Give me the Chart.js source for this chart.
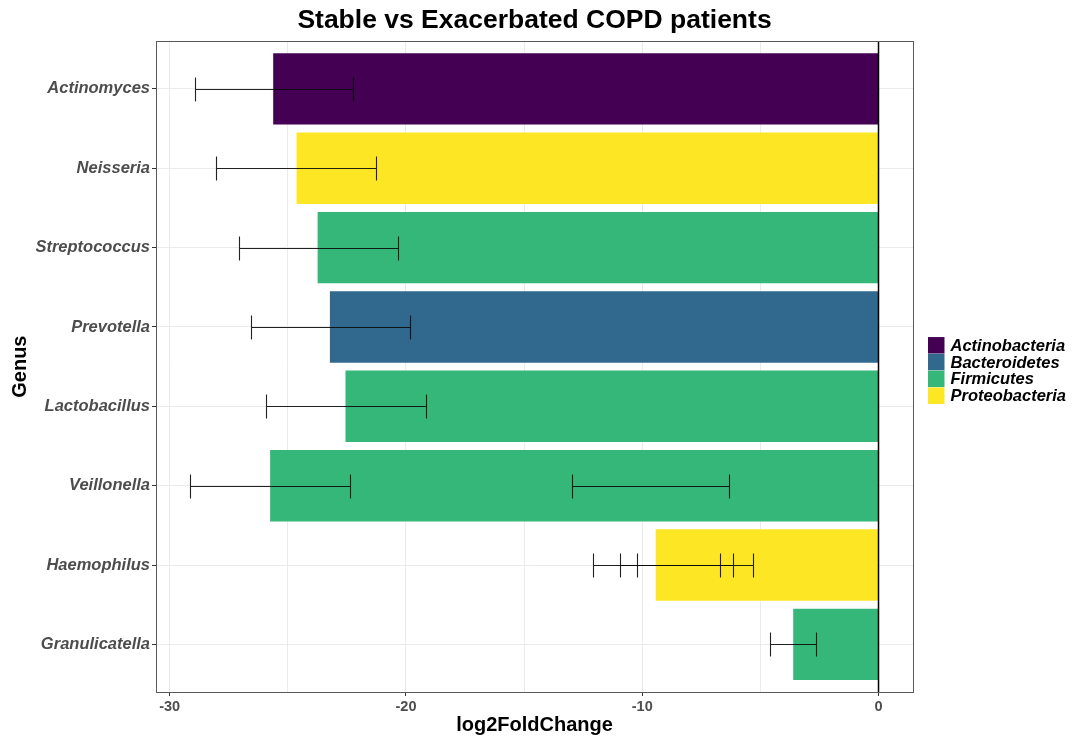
<!DOCTYPE html>
<html>
<head>
<meta charset="utf-8">
<script src="https://cdn.jsdelivr.net/npm/chart.js@4.4.1/dist/chart.umd.min.js"></script>
<style>
  html, body { margin: 0; padding: 0; background: #fff; }
  #wrap { width: 1081px; height: 737px; }
</style>
</head>
<body>
<div id="wrap"><canvas id="copdChart" width="1081" height="737"></canvas></div>
<script>
// --- data ---
const genera = ['Actinomyces', 'Neisseria', 'Streptococcus', 'Prevotella', 'Lactobacillus', 'Veillonella', 'Haemophilus', 'Granulicatella'];
const phylum = ['Actinobacteria', 'Proteobacteria', 'Firmicutes', 'Bacteroidetes', 'Firmicutes', 'Firmicutes', 'Proteobacteria', 'Firmicutes'];
const log2fc = [-25.62, -24.63, -23.74, -23.22, -22.56, -25.75, -9.43, -3.61];

// error bars (some genera have several)
const errGenus = ['Actinomyces', 'Neisseria', 'Streptococcus', 'Prevotella', 'Lactobacillus', 'Veillonella', 'Veillonella', 'Haemophilus', 'Haemophilus', 'Haemophilus', 'Granulicatella'];
const errLow  = [-28.95, -28.02, -27.08, -26.57, -25.93, -29.12, -12.97, -12.08, -10.93, -10.22, -4.61];
const errHigh = [-22.23, -21.27, -20.33, -19.82, -19.14, -22.36, -6.31, -6.72, -6.14, -5.31, -2.64];

const phylaOrder = ['Actinobacteria', 'Bacteroidetes', 'Firmicutes', 'Proteobacteria'];
const phylaColors = ['#440154', '#31688E', '#35B779', '#FDE725'];

const FONT = "'Liberation Sans', Arial, sans-serif";
const colorOf = (p) => phylaColors[phylaOrder.indexOf(p)];

// error bars + zero line + panel border
const overlayPlugin = {
    id: 'overlay',
    afterDatasetsDraw(chart) {
        const { ctx, chartArea: a, scales: { x, y } } = chart;
        ctx.save();
        // vertical line at 0
        const x0 = x.getPixelForValue(0);
        ctx.strokeStyle = '#000';
        ctx.lineWidth = 1.5;
        ctx.beginPath(); ctx.moveTo(x0, a.top); ctx.lineTo(x0, a.bottom); ctx.stroke();

        // error bars
        ctx.strokeStyle = 'rgba(10,10,10,0.9)';
        ctx.lineWidth = 1.1;
        errGenus.forEach((g, i) => {
            const idx = genera.indexOf(g);
            const yc = Math.round(y.getPixelForValue(idx)) + 0.5;
            const half = Math.abs(y.getPixelForValue(idx + 0.15) - y.getPixelForValue(idx));
            const xl = Math.round(x.getPixelForValue(errLow[i])) + 0.5;
            const xr = Math.round(x.getPixelForValue(errHigh[i])) + 0.5;
            ctx.beginPath();
            ctx.moveTo(xl, yc); ctx.lineTo(xr, yc);
            ctx.moveTo(xl, yc - half); ctx.lineTo(xl, yc + half);
            ctx.moveTo(xr, yc - half); ctx.lineTo(xr, yc + half);
            ctx.stroke();
        });

        // panel border
        ctx.strokeStyle = '#5a5a5a';
        ctx.lineWidth = 1;
        ctx.strokeRect(Math.round(a.left) + 0.5, Math.round(a.top) + 0.5, Math.round(a.right - a.left), Math.round(a.bottom - a.top));
        ctx.restore();
    }
};

// legend drawn to the right of the panel (ggplot style, no title)
const legendPlugin = {
    id: 'phylaLegend',
    afterDraw(chart) {
        const { ctx, chartArea: a } = chart;
        const box = 16.5, step = 16.8;
        const left = a.right + 15;
        const top = (a.top + a.bottom) / 2 - (step * phylaOrder.length) / 2 + 4;
        ctx.save();
        ctx.font = `italic bold 16.5px ${FONT}`;
        ctx.textBaseline = 'middle';
        ctx.textAlign = 'left';
        phylaOrder.forEach((p, i) => {
            const yy = top + i * step;
            ctx.fillStyle = phylaColors[i];
            ctx.fillRect(left, yy, box, box);
            ctx.fillStyle = '#000';
            ctx.fillText(p, left + box + 6, yy + box / 2 + 1);
        });
        ctx.restore();
    }
};

new Chart(document.getElementById('copdChart').getContext('2d'), {
    type: 'bar',
    data: {
        datasets: [{
            label: 'log2FoldChange',
            data: genera.map((g, i) => ({ x: log2fc[i], y: i })),
            backgroundColor: phylum.map(colorOf),
            borderWidth: 0,
            barPercentage: 0.9,
            categoryPercentage: 1
        }]
    },
    options: {
        indexAxis: 'y',
        responsive: false,
        animation: false,
        devicePixelRatio: 1,
        layout: { padding: { left: 0, right: 168, top: 0, bottom: 0 } },
        plugins: {
            legend: { display: false },
            tooltip: { enabled: false },
            title: {
                display: true,
                text: 'Stable vs Exacerbated COPD patients',
                color: '#000',
                fullSize: false,
                font: { family: FONT, size: 26.5, weight: 'bold' },
                padding: { top: 5, bottom: 4.5 }
            }
        },
        scales: {
            x: {
                type: 'linear',
                min: -30.58, max: 1.46,
                afterBuildTicks: (axis) => { axis.ticks = axis.ticks.filter(t => t.value % 5 === 0); },
                afterFit: (axis) => { axis.height = 45; },
                ticks: {
                    stepSize: 5,
                    includeBounds: false,
                    autoSkip: false,
                    maxRotation: 0,
                    color: '#4d4d4d',
                    padding: 2,
                    font: { family: FONT, size: 14.5, weight: 'bold' },
                    callback: (v) => (v % 10 === 0 ? String(v) : '')
                },
                grid: {
                    color: '#ebebeb',
                    tickLength: 4,
                    tickColor: (c) => (c.tick && c.tick.value % 10 === 0 ? '#333' : 'rgba(0,0,0,0)')
                },
                border: { display: false },
                title: {
                    display: true,
                    text: 'log2FoldChange',
                    color: '#000',
                    font: { family: FONT, size: 20, weight: 'bold' },
                    padding: { top: 0, bottom: 0 }
                }
            },
            y: {
                type: 'linear',
                reverse: true,
                offset: false,
                min: -0.6, max: 7.6,
                afterBuildTicks: (axis) => { axis.ticks = axis.ticks.filter(t => Number.isInteger(t.value)); },
                afterFit: (axis) => { axis.width = 156; },
                ticks: {
                    stepSize: 1,
                    includeBounds: false,
                    autoSkip: false,
                    color: '#4d4d4d',
                    padding: 2,
                    font: { family: FONT, size: 16.5, weight: 'bold', style: 'italic' },
                    callback: (v) => genera[v] || ''
                },
                grid: { offset: false, color: '#ebebeb', tickLength: 4, tickColor: '#333' },
                border: { display: false },
                title: {
                    display: true,
                    text: 'Genus',
                    color: '#000',
                    font: { family: FONT, size: 20, weight: 'bold' },
                    padding: { top: 8, bottom: 0 }
                }
            }
        }
    },
    plugins: [overlayPlugin, legendPlugin]
});
</script>
</body>
</html>
